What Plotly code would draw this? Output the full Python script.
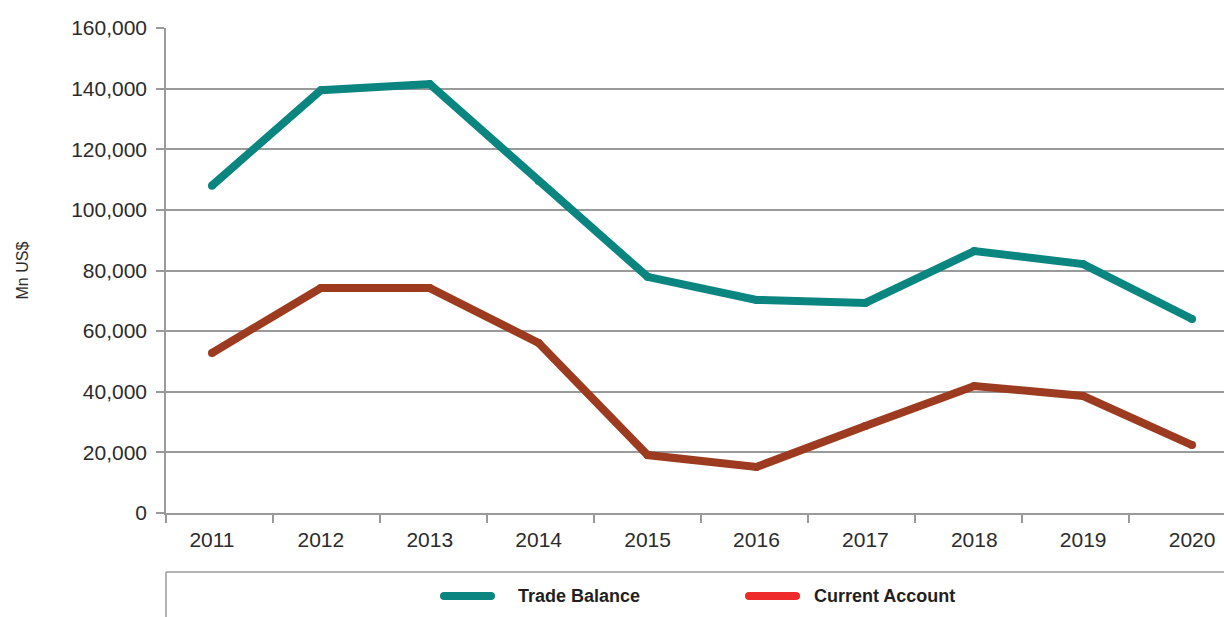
import plotly.graph_objects as go

# Balance of payments, Mn US$
years = ["2011", "2012", "2013", "2014", "2015", "2016", "2017", "2018", "2019", "2020"]
trade_balance = [108000, 139500, 141500, 109500, 77900, 70300, 69300, 86400, 82100, 64000]
current_account = [52800, 74200, 74200, 56100, 19100, 15200, 28700, 41900, 38600, 22400]

y_ticks = [0, 20000, 40000, 60000, 80000, 100000, 120000, 140000, 160000]

TEAL = "#0b8580"
BROWN = "#9c3b1f"
LEGEND_RED = "#ee2a2a"
GRID = "#9a9a9a"
TEXT = "#2b2b2b"

W, H = 1224, 617
M_L, M_R, M_T, M_B = 166, 0, 28, 104

xpos = list(range(len(years)))

fig = go.Figure()
for name, vals, col in [("Trade Balance", trade_balance, TEAL),
                        ("Current Account", current_account, BROWN)]:
    fig.add_trace(go.Scatter(
        x=xpos, y=vals, name=name, mode="lines+markers",
        line=dict(color=col, width=8),
        marker=dict(color=col, size=8, line=dict(width=0)),
        showlegend=False, hoverinfo="x+y",
    ))

# category boundary ticks sit between the year positions
step = 0.9826
x_left = -0.422

fig.update_layout(
    width=W, height=H,
    margin=dict(l=M_L, r=M_R, t=M_T, b=M_B),
    paper_bgcolor="white", plot_bgcolor="white",
    font=dict(family="Liberation Sans, Arial, sans-serif", color=TEXT),
    showlegend=False,
    xaxis=dict(
        range=[x_left, 9.293],
        tickmode="array", tickvals=xpos, ticktext=years,
        ticks="", showgrid=False, zeroline=False,
        showline=True, linecolor=GRID, linewidth=1.5,
        tickfont=dict(size=21, color=TEXT),
        ticklabelstandoff=7,
        minor=dict(tickmode="linear", tick0=x_left, dtick=step,
                   ticks="outside", ticklen=8, tickcolor=GRID,
                   tickwidth=1.5, showgrid=False),
    ),
    yaxis=dict(
        range=[0, 160000],
        tickmode="array", tickvals=y_ticks, tickformat=",",
        ticks="outside", ticklen=8, tickcolor=GRID, tickwidth=1.5,
        showgrid=True, gridcolor=GRID, gridwidth=1.5,
        zeroline=False, showline=True, linecolor=GRID, linewidth=1.5,
        tickfont=dict(size=21, color=TEXT),
        ticklabelstandoff=5,
    ),
)

plot_w = W - M_L - M_R
plot_h = H - M_T - M_B


def px_x(p):
    return (p - M_L) / plot_w


def px_y(p):
    return (H - M_B - p) / plot_h


# y-axis title
fig.add_annotation(
    text="Mn US$", textangle=-90, x=px_x(22), y=0.5,
    xref="paper", yref="paper", xanchor="center", yanchor="middle",
    showarrow=False, font=dict(size=16, color=TEXT),
)

# legend frame
fig.add_shape(type="line", xref="paper", yref="paper",
              x0=0, x1=1, y0=px_y(572), y1=px_y(572),
              line=dict(color=GRID, width=1.5))
fig.add_shape(type="line", xref="paper", yref="paper",
              x0=0, x1=0, y0=px_y(572), y1=px_y(H + 2),
              line=dict(color=GRID, width=1.5))

# legend swatches with rounded ends
legend_items = [("Trade Balance", TEAL, 440, 516),
                ("Current Account", LEGEND_RED, 745, 812)]
ly = px_y(596)
for label, col, sx, tx in legend_items:
    anchor = px_x(sx)
    fig.add_shape(type="rect", xref="paper", yref="paper",
                  xsizemode="pixel", ysizemode="pixel",
                  xanchor=anchor, yanchor=ly,
                  x0=4, x1=51, y0=-4, y1=4,
                  fillcolor=col, line=dict(width=0))
    for cx in (4, 51):
        fig.add_shape(type="circle", xref="paper", yref="paper",
                      xsizemode="pixel", ysizemode="pixel",
                      xanchor=anchor, yanchor=ly,
                      x0=cx - 4, x1=cx + 4, y0=-4, y1=4,
                      fillcolor=col, line=dict(width=0))
    fig.add_annotation(
        text=f"<b>{label}</b>", x=px_x(tx), y=ly,
        xref="paper", yref="paper", xanchor="left", yanchor="middle",
        showarrow=False,
        font=dict(size=18, color="#231f20",
                  family="Liberation Sans Narrow, Arial Narrow, sans-serif"),
    )

fig.write_html("out.html")
